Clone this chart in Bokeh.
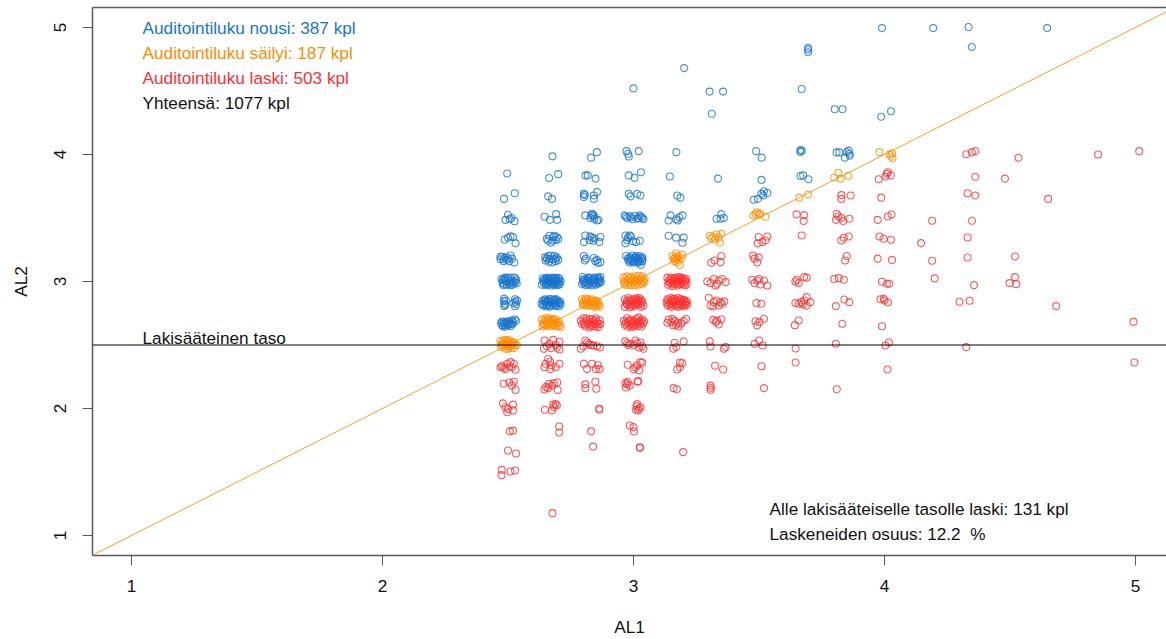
from bokeh.plotting import figure
from bokeh.models import Span, Slope, FixedTicker, LinearAxis, Range1d, Label
from bokeh.embed import file_html
from bokeh.resources import INLINE

x_ticks = [1, 2, 3, 4, 5]
y_ticks = [1, 2, 3, 4, 5]
x_title = "AL1"
y_title = "AL2"
legal_level = 2.5
legend_lines = ["Auditointiluku nousi: 387 kpl", "Auditointiluku säilyi: 187 kpl",
                "Auditointiluku laski: 503 kpl", "Yhteensä: 1077 kpl"]
legal_text = "Lakisääteinen taso"
note_lines = ["Alle lakisääteiselle tasolle laski: 131 kpl", "Laskeneiden osuus: 12.2 \u00a0%"]

blue_pts = [
 (3.99,4.995),(4.194,4.995),(4.335,5.003),(4.648,4.995),(4.348,4.846),(3.696,4.84),(3.696,4.825),(3.696,4.805),
 (3.202,4.68),(3.0,4.52),(3.303,4.495),(3.357,4.495),(3.312,4.32),(3.67,4.515),(3.802,4.356),(3.833,4.356),(4.026,4.34),(3.987,4.297),
 (2.497,3.85),(2.527,3.695),(2.484,3.65),(2.5,3.525),(2.49,3.485),(2.507,3.49),(2.526,3.475),(2.514,3.5),(2.487,3.33),(2.51,3.355),(2.52,3.35),(2.53,3.3),(2.5,3.345),
 (2.477,3.195),(2.51,3.205),(2.483,3.16),(2.525,3.15),(2.497,3.17),(2.47,3.195),(2.483,3.175),(2.516,3.18),(2.47,3.175),(2.49,3.19),(2.505,3.16),(2.5,3.185),
 (2.474,3.02),(2.478,2.99),(2.482,2.97),(2.49,3.03),(2.488,3.005),(2.495,2.975),(2.5,3.015),(2.505,2.99),(2.51,3.03),(2.518,2.975),(2.52,3.0),(2.526,3.03),(2.533,3.015),(2.535,2.985),(2.48,3.01),(2.51,2.97),
 (2.484,2.98),(2.494,2.995),(2.484,3.022),(2.498,3.028),(2.512,3.008),(2.526,2.99),(2.514,2.985),(2.53,3.002),
 (2.485,2.865),(2.483,2.845),(2.487,2.825),(2.485,2.805),(2.492,2.85),(2.49,2.815),(2.528,2.86),(2.53,2.84),(2.533,2.82),(2.528,2.805),(2.522,2.83),(2.536,2.85),
 (2.472,2.67),(2.478,2.655),(2.482,2.68),(2.488,2.66),(2.49,2.645),(2.495,2.672),(2.5,2.655),(2.505,2.685),(2.51,2.668),(2.512,2.65),(2.52,2.68),(2.527,2.7),(2.533,2.69),(2.515,2.695),
 (2.476,2.685),(2.485,2.67),(2.48,2.645),(2.497,2.686),(2.503,2.668),(2.517,2.665),
 (2.677,3.985),(2.664,3.815),(2.7,3.845),(2.66,3.67),(2.675,3.65),(2.646,3.51),(2.667,3.485),(2.692,3.53),(2.696,3.485),
 (2.655,3.335),(2.672,3.305),(2.68,3.35),(2.695,3.35),(2.665,3.36),(2.69,3.325),(2.678,3.32),(2.66,3.32),(2.685,3.36),(2.7,3.335),
 (2.648,3.19),(2.66,3.2),(2.67,3.205),(2.685,3.2),(2.695,3.19),(2.65,3.165),(2.662,3.155),(2.675,3.15),(2.69,3.16),(2.7,3.17),(2.665,3.178),(2.68,3.175),(2.655,3.18),(2.69,3.18),
 (2.635,2.975),(2.64,3.0),(2.638,3.025),(2.65,2.97),(2.652,2.99),(2.648,3.012),(2.655,3.03),(2.662,2.975),(2.665,3.0),(2.66,3.02),(2.672,2.968),(2.675,2.988),(2.67,3.01),(2.677,3.03),(2.685,2.975),(2.688,2.998),(2.684,3.018),(2.695,2.97),(2.698,2.99),(2.694,3.012),(2.7,3.028),(2.706,2.98),(2.71,3.0),(2.705,3.02),
 (2.644,2.985),(2.644,3.015),(2.656,3.005),(2.656,2.98),(2.668,3.022),(2.668,2.992),(2.68,3.0),(2.68,2.978),(2.68,3.024),(2.692,3.005),(2.692,2.985),(2.692,3.026),(2.702,3.0),(2.702,2.975),(2.65,3.022),(2.662,3.01),
 (2.634,2.825),(2.638,2.85),(2.64,2.81),(2.648,2.86),(2.65,2.835),(2.652,2.805),(2.66,2.85),(2.662,2.825),(2.665,2.8),(2.672,2.862),(2.675,2.84),(2.677,2.815),(2.685,2.855),(2.688,2.83),(2.69,2.805),(2.698,2.85),(2.7,2.825),(2.702,2.805),(2.708,2.84),(2.71,2.82),
 (2.644,2.82),(2.644,2.845),(2.656,2.815),(2.656,2.84),(2.668,2.838),(2.668,2.812),(2.68,2.85),(2.68,2.826),(2.693,2.84),(2.693,2.815),(2.704,2.832),(2.65,2.85),(2.662,2.86),(2.69,2.862),
 (2.854,4.018),(2.831,3.975),(2.809,3.835),(2.818,3.835),(2.849,3.81),(2.802,3.69),(2.802,3.665),(2.855,3.705),(2.842,3.677),(2.842,3.65),(2.806,3.68),
 (2.808,3.52),(2.835,3.533),(2.842,3.512),(2.828,3.5),(2.855,3.48),(2.844,3.493),(2.861,3.485),(2.832,3.52),(2.84,3.525),
 (2.808,3.362),(2.803,3.31),(2.828,3.355),(2.825,3.325),(2.868,3.35),(2.864,3.31),(2.845,3.34),(2.835,3.345),(2.84,3.32),
 (2.802,3.2),(2.806,3.165),(2.842,3.185),(2.855,3.17),(2.868,3.152),(2.858,3.145),(2.81,3.18),(2.848,3.16),
 (2.795,2.98),(2.8,3.015),(2.798,3.035),(2.81,2.97),(2.812,2.995),(2.808,3.02),(2.82,3.03),(2.822,2.975),(2.826,3.0),(2.83,3.02),(2.835,2.968),(2.84,2.99),(2.838,3.01),(2.846,3.03),(2.85,2.975),(2.853,3.0),(2.858,3.02),(2.862,2.985),(2.866,3.005),(2.868,3.035),
 (2.804,2.985),(2.804,3.005),(2.816,3.012),(2.816,2.982),(2.826,3.028),(2.83,2.985),(2.842,3.022),(2.846,2.982),(2.846,3.008),(2.858,2.992),(2.86,3.03),(2.864,3.018),(2.87,2.995),(2.8,3.0),
 (2.972,4.026),(2.979,4.005),(2.981,3.984),(3.021,4.026),(2.981,3.835),(3.004,3.816),(3.03,3.86),(2.981,3.69),(2.988,3.67),(3.015,3.69),(3.028,3.677),
 (2.965,3.52),(2.975,3.5),(2.97,3.51),(2.985,3.515),(2.995,3.49),(3.005,3.515),(3.015,3.495),(3.025,3.52),(3.035,3.5),(3.04,3.49),(3.02,3.5),(2.99,3.505),(3.03,3.51),
 (2.968,3.362),(2.985,3.362),(2.968,3.3),(2.998,3.316),(3.025,3.32),(2.978,3.345),(2.99,3.355),(3.01,3.31),(2.975,3.325),
 (2.97,3.2),(2.985,3.19),(2.995,3.205),(3.01,3.2),(3.025,3.2),(3.035,3.19),(2.98,3.165),(2.995,3.17),(3.01,3.175),(3.025,3.165),(3.035,3.16),(2.985,3.15),(3.0,3.15),(3.015,3.15),(3.03,3.13),(3.005,3.185),(3.02,3.18),
 (2.99,3.182),(2.978,3.18),(3.03,3.182),(3.018,3.162),(3.004,3.16),(2.992,3.16),(3.036,3.175),(3.012,3.19),(3.024,3.15),
 (3.171,4.018),(3.145,3.827),(3.174,3.677),(3.187,3.66),(3.148,3.52),(3.14,3.48),(3.195,3.52),(3.17,3.49),(3.183,3.505),(3.176,3.48),
 (3.14,3.36),(3.17,3.345),(3.2,3.345),(3.195,3.305),
 (3.337,3.81),(3.331,3.494),(3.347,3.494),(3.36,3.5),(3.35,3.53),
 (3.489,4.026),(3.511,3.975),(3.51,3.8),(3.479,3.643),(3.495,3.65),(3.51,3.69),(3.52,3.71),(3.533,3.697),(3.517,3.677),
 (3.665,4.035),(3.67,4.03),(3.665,4.02),(3.665,3.83),(3.676,3.835),(3.697,3.805),
 (3.809,4.016),(3.82,4.016),(3.858,4.03),(3.86,4.005),(3.862,3.99),(3.85,4.018),(3.842,3.975),
]

red_pts = [
 (3.977,3.805),(4.004,3.827),(4.01,3.848),(4.026,3.835),(4.013,3.86),(3.987,3.66),(3.973,3.485),(4.013,3.512),(4.028,3.527),(3.98,3.354),(3.996,3.336),(4.026,3.328),(3.973,3.18),(4.03,3.17),(3.99,2.998),(4.01,2.982),(4.02,2.982),(3.984,2.86),(3.997,2.864),(4.0,2.85),(4.014,2.835),(3.99,2.648),(4.004,2.496),(4.018,2.52),(4.012,2.307),
 (3.828,3.68),(3.865,3.677),(3.828,3.65),(3.81,3.533),(3.807,3.485),(3.828,3.5),(3.836,3.476),(3.86,3.494),(3.816,3.512),(3.828,3.323),(3.838,3.344),(3.858,3.354),(3.85,3.2),(3.843,3.165),(3.8,3.02),(3.818,3.026),(3.838,3.013),(3.806,2.806),(3.84,2.858),(3.86,2.837),(3.832,2.667),(3.806,2.51),(3.81,2.152),
 (3.65,3.528),(3.68,3.522),(3.678,3.476),(3.67,3.362),(3.645,3.0),(3.658,2.987),(3.68,3.035),(3.69,3.03),(3.65,3.013),(3.645,2.83),(3.658,2.825),(3.675,2.82),(3.69,2.877),(3.705,2.837),(3.69,2.81),(3.68,2.85),(3.668,2.837),(3.658,2.693),(3.643,2.656),(3.646,2.472),(3.646,2.362),
 (3.533,3.354),(3.499,3.35),(3.495,3.3),(3.526,3.323),(3.513,3.31),(3.476,3.205),(3.499,3.19),(3.482,3.18),(3.493,3.15),(3.473,3.013),(3.493,3.008),(3.52,3.008),(3.533,2.968),(3.506,2.976),(3.482,2.987),(3.5,3.02),(3.49,2.83),(3.509,2.825),(3.52,2.706),(3.502,2.68),(3.493,2.654),(3.486,2.687),(3.483,2.51),(3.5,2.535),(3.515,2.496),(3.51,2.333),(3.52,2.16),
 (3.31,3.147),(3.35,3.2),(3.347,3.152),(3.323,3.165),(3.294,3.0),(3.32,3.02),(3.307,2.987),(3.333,2.982),(3.353,3.02),(3.367,2.995),(3.34,3.008),(3.327,2.968),(3.3,2.872),(3.362,2.843),(3.32,2.837),(3.34,2.811),(3.353,2.824),(3.307,2.811),(3.331,2.85),(3.347,2.837),(3.318,2.803),(3.318,2.698),(3.35,2.703),(3.34,2.661),(3.333,2.693),(3.328,2.68),(3.304,2.528),(3.307,2.488),(3.36,2.47),(3.367,2.484),(3.325,2.336),(3.357,2.307),(3.307,2.18),(3.308,2.163),(3.307,2.147),
 (3.135,3.03),(3.14,3.0),(3.138,2.975),(3.15,3.03),(3.152,3.01),(3.15,2.985),(3.155,2.965),(3.165,3.028),(3.168,3.0),(3.162,2.978),(3.178,3.035),(3.18,3.012),(3.175,2.99),(3.177,2.968),(3.19,3.03),(3.192,3.005),(3.188,2.98),(3.2,3.025),(3.205,3.0),(3.2,2.975),(3.21,3.02),(3.212,2.985),
 (3.144,3.018),(3.144,2.99),(3.158,3.018),(3.158,2.995),(3.172,3.018),(3.172,2.978),(3.184,3.0),(3.184,3.024),(3.196,2.99),(3.196,3.015),(3.206,3.01),(3.208,2.97),
 (3.135,2.86),(3.132,2.835),(3.136,2.81),(3.148,2.87),(3.15,2.845),(3.148,2.82),(3.15,2.8),(3.162,2.865),(3.165,2.84),(3.16,2.815),(3.178,2.87),(3.18,2.845),(3.175,2.82),(3.177,2.8),(3.19,2.86),(3.192,2.835),(3.188,2.81),(3.202,2.855),(3.205,2.83),(3.2,2.805),(3.212,2.845),(3.213,2.82),
 (3.14,2.85),(3.142,2.825),(3.156,2.858),(3.156,2.832),(3.168,2.852),(3.17,2.808),(3.184,2.858),(3.184,2.824),(3.196,2.845),(3.196,2.82),(3.208,2.838),(3.208,2.812),
 (3.14,2.7),(3.135,2.675),(3.15,2.68),(3.158,2.655),(3.165,2.69),(3.17,2.66),(3.18,2.645),(3.19,2.67),(3.2,2.69),(3.21,2.705),(3.178,2.675),(3.155,2.705),
 (3.164,2.517),(3.2,2.528),(3.158,2.47),(3.171,2.484),(3.185,2.362),(3.194,2.357),(3.185,2.325),(3.174,2.307),(3.16,2.16),(3.173,2.152),(3.198,1.656),
 (2.965,2.86),(2.97,2.83),(2.965,2.8),(2.98,2.87),(2.982,2.845),(2.98,2.815),(2.985,2.795),(2.995,2.86),(2.998,2.83),(2.995,2.805),(3.01,2.865),(3.012,2.84),(3.008,2.81),(3.022,2.87),(3.025,2.845),(3.02,2.82),(3.035,2.84),(3.04,2.81),(3.03,2.8),
 (2.974,2.85),(2.974,2.82),(2.99,2.848),(2.99,2.82),(3.004,2.85),(3.004,2.82),(3.018,2.855),(3.016,2.83),(3.03,2.825),(3.03,2.858),
 (2.962,2.69),(2.966,2.66),(2.975,2.71),(2.978,2.68),(2.975,2.645),(2.99,2.7),(2.992,2.67),(2.99,2.64),(3.005,2.69),(3.008,2.66),(3.0,2.645),(3.02,2.715),(3.022,2.68),(3.018,2.65),(3.035,2.7),(3.038,2.67),(3.032,2.645),(3.042,2.685),
 (2.97,2.675),(2.984,2.66),(2.984,2.692),(2.998,2.68),(2.998,2.655),(3.012,2.705),(3.014,2.675),(3.028,2.665),(3.028,2.69),
 (2.967,2.53),(2.975,2.515),(2.988,2.51),(3.001,2.5),(3.015,2.515),(3.028,2.52),(3.04,2.47),(3.034,2.49),(2.98,2.5),(3.008,2.535),(3.022,2.48),
 (2.977,2.344),(3.028,2.365),(3.008,2.325),(3.022,2.3),(3.035,2.36),(3.001,2.31),(3.015,2.34),
 (2.968,2.2),(2.985,2.18),(2.977,2.21),(2.97,2.165),(3.018,2.215),(3.016,2.21),(2.975,2.19),
 (3.015,2.035),(3.022,2.0),(3.012,2.02),(3.028,2.01),(3.018,1.985),(3.01,1.99),
 (2.985,1.866),(3.0,1.853),(3.002,1.819),(3.025,1.695),(3.026,1.69),
 (2.79,2.69),(2.8,2.71),(2.795,2.665),(2.808,2.645),(2.815,2.695),(2.82,2.665),(2.825,2.64),(2.835,2.7),(2.838,2.67),(2.84,2.645),(2.85,2.71),(2.855,2.68),(2.852,2.65),(2.865,2.695),(2.868,2.665),(2.86,2.64),
 (2.802,2.68),(2.806,2.66),(2.812,2.71),(2.826,2.68),(2.83,2.655),(2.826,2.705),(2.846,2.665),(2.846,2.695),(2.86,2.665),
 (2.808,2.535),(2.855,2.49),(2.8,2.49),(2.79,2.47),(2.832,2.5),(2.866,2.48),(2.815,2.52),(2.822,2.505),(2.84,2.495),
 (2.802,2.352),(2.835,2.352),(2.815,2.31),(2.85,2.31),(2.865,2.31),(2.858,2.34),
 (2.808,2.19),(2.808,2.16),(2.848,2.21),(2.852,2.155),
 (2.863,2.0),(2.864,1.99),(2.704,1.858),(2.704,1.811),(2.831,1.82),(2.839,1.7),
 (2.646,2.535),(2.68,2.54),(2.705,2.525),(2.643,2.47),(2.672,2.475),(2.705,2.465),(2.69,2.5),(2.665,2.51),(2.655,2.49),(2.695,2.48),
 (2.66,2.39),(2.705,2.352),(2.645,2.325),(2.669,2.31),(2.69,2.325),(2.65,2.352),(2.672,2.34),(2.668,2.37),
 (2.696,2.207),(2.663,2.195),(2.645,2.15),(2.698,2.145),(2.675,2.18),(2.66,2.16),(2.683,2.2),(2.652,2.17),
 (2.69,2.035),(2.683,2.01),(2.675,1.985),(2.647,1.99),(2.695,2.025),(2.68,2.03),(2.677,1.176),
 (2.47,2.325),(2.497,2.352),(2.523,2.352),(2.49,2.31),(2.53,2.305),(2.515,2.325),(2.483,2.32),(2.51,2.365),(2.476,2.335),(2.505,2.33),
 (2.483,2.195),(2.523,2.21),(2.53,2.145),(2.515,2.18),(2.505,2.205),
 (2.48,2.04),(2.52,2.03),(2.497,1.97),(2.49,2.01),(2.52,1.985),(2.5,1.995),
 (2.507,1.82),(2.52,1.826),(2.5,1.669),(2.532,1.646),(2.475,1.517),(2.474,1.475),(2.51,1.504),(2.528,1.512),
 (4.326,4.002),(4.348,4.016),(4.362,4.026),(4.534,3.974),(4.851,4.0),(5.015,4.026),(4.362,3.824),(4.48,3.81),(4.331,3.695),(4.362,3.677),(4.652,3.65),(4.19,3.478),(4.349,3.478),(4.146,3.302),(4.331,3.346),(4.19,3.163),(4.331,3.189),(4.52,3.197),(4.2,3.024),(4.357,2.971),(4.498,2.987),(4.52,3.034),(4.525,2.979),(4.299,2.84),(4.339,2.848),(4.684,2.806),(4.992,2.682),(4.326,2.483),(4.996,2.362),
]

orange_pts = [
 (2.47,2.53),(2.475,2.505),(2.472,2.485),(2.485,2.54),(2.488,2.515),(2.485,2.49),(2.49,2.47),(2.5,2.54),(2.502,2.52),(2.498,2.495),(2.5,2.47),(2.51,2.53),(2.513,2.505),(2.51,2.48),(2.525,2.52),(2.528,2.495),(2.522,2.475),(2.535,2.5),
 (2.48,2.5),(2.48,2.525),(2.494,2.505),(2.494,2.53),(2.506,2.51),(2.506,2.49),(2.518,2.5),(2.518,2.52),
 (2.635,2.7),(2.64,2.67),(2.638,2.645),(2.65,2.71),(2.652,2.685),(2.65,2.655),(2.662,2.71),(2.665,2.68),(2.66,2.65),(2.675,2.705),(2.678,2.675),(2.672,2.648),(2.69,2.7),(2.692,2.67),(2.688,2.645),(2.703,2.685),(2.706,2.655),(2.71,2.64),
 (2.645,2.695),(2.644,2.66),(2.656,2.67),(2.658,2.695),(2.67,2.665),(2.67,2.69),(2.684,2.66),(2.684,2.69),(2.698,2.675),(2.698,2.65),(2.68,2.705),
 (2.795,2.86),(2.8,2.835),(2.798,2.815),(2.81,2.865),(2.812,2.84),(2.808,2.81),(2.82,2.86),(2.825,2.835),(2.822,2.81),(2.835,2.86),(2.84,2.835),(2.838,2.805),(2.85,2.85),(2.852,2.825),(2.848,2.8),(2.862,2.82),(2.865,2.8),(2.858,2.84),
 (2.804,2.85),(2.804,2.825),(2.816,2.85),(2.816,2.825),(2.83,2.848),(2.83,2.82),(2.845,2.848),(2.845,2.818),(2.856,2.81),
 (2.96,3.03),(2.962,3.0),(2.965,2.975),(2.975,3.04),(2.978,3.01),(2.975,2.975),(2.99,3.035),(2.992,3.0),(2.99,2.97),(3.005,3.04),(3.008,3.005),(3.005,2.97),(3.02,3.045),(3.022,3.01),(3.02,2.975),(3.035,3.04),(3.038,3.005),(3.035,2.98),(3.044,3.02),
 (2.968,3.015),(2.968,2.99),(2.984,3.022),(2.984,2.988),(3.0,3.02),(3.0,2.985),(3.014,3.025),(3.014,2.99),(3.03,3.025),(3.03,2.992),(3.044,2.995),
 (3.155,3.2),(3.17,3.22),(3.178,3.2),(3.195,3.21),(3.165,3.185),(3.18,3.17),(3.19,3.185),(3.165,3.16),(3.175,3.15),(3.185,3.13),(3.17,3.175),(3.175,3.19),(3.16,3.175),
 (3.304,3.36),(3.318,3.354),(3.331,3.37),(3.35,3.375),(3.325,3.33),(3.345,3.305),(3.31,3.34),(3.338,3.345),
 (3.478,3.52),(3.492,3.545),(3.505,3.535),(3.525,3.51),(3.5,3.525),(3.487,3.53),
 (3.661,3.66),(3.696,3.685),(3.816,3.855),(3.8,3.818),(3.825,3.81),(3.856,3.832),
 (3.98,4.018),(4.02,4.0),(4.03,4.01),(4.032,3.97),(4.027,3.984),
]

blue_x, blue_y = [a for a, _ in blue_pts], [b for _, b in blue_pts]
red_x, red_y = [a for a, _ in red_pts], [b for _, b in red_pts]
orange_x, orange_y = [a for a, _ in orange_pts], [b for _, b in orange_pts]

BLUE, ORANGE, RED = "#1874CD", "#FF8C00", "#FF3030"
GREY = "#5a5a5a"
FONT = "Liberation Sans"
FS = "17.2px"

p = figure(width=1166, height=639, output_backend="svg", toolbar_location=None,
           x_range=Range1d(0.8446, 5.1235), y_range=Range1d(0.8425, 5.157),
           min_border_left=92, min_border_right=0, min_border_top=7, min_border_bottom=84,
           x_axis_label=x_title, y_axis_label=y_title, margin=(0, 0, 0, 0))
p.grid.visible = False
p.outline_line_color = None
p.background_fill_color = "white"

for ax, ticks in ((p.xaxis[0], x_ticks), (p.yaxis[0], y_ticks)):
    ax.ticker = FixedTicker(ticks=ticks)
    ax.major_tick_out = 10
    ax.major_tick_in = 0
    ax.minor_tick_line_color = None
    ax.axis_line_color = GREY
    ax.axis_line_width = 1.5
    ax.major_tick_line_color = GREY
    ax.major_label_text_font = FONT
    ax.major_label_text_font_size = FS
    ax.major_label_text_color = "#111111"
    ax.axis_label_text_font = FONT
    ax.axis_label_text_font_size = FS
    ax.axis_label_text_font_style = "normal"
    ax.axis_label_text_color = "#111111"
p.xaxis[0].major_label_standoff = 14
p.xaxis[0].axis_label_standoff = 22
p.yaxis[0].major_label_standoff = 16
p.yaxis[0].major_label_orientation = "vertical"
p.yaxis[0].axis_label_standoff = 21

top = LinearAxis(ticker=FixedTicker(ticks=[]), axis_line_color=GREY, axis_line_width=1.5,
                 major_tick_line_color=None, minor_tick_line_color=None,
                 major_label_text_font_size="0px")
p.add_layout(top, "above")

kw = dict(marker="circle", size=7, fill_color=None, line_width=1.1, line_alpha=0.8)
p.scatter(blue_x, blue_y, line_color=BLUE, **kw)
p.scatter(red_x, red_y, line_color=RED, **kw)
p.scatter(orange_x, orange_y, line_color=ORANGE, **kw)

p.add_layout(Slope(gradient=1, y_intercept=0, line_color=ORANGE, line_width=1, line_alpha=0.85))
p.add_layout(Span(location=legal_level, dimension="width", line_color="#000000", line_width=1.2))

def txt(x, y, s, c):
    p.add_layout(Label(x=x, y=y, text=s, text_color=c, text_font=FONT, text_font_size=FS,
                       text_baseline="middle", text_align="left"))

for s, c, y in zip(legend_lines, [BLUE, ORANGE, RED, "#111111"], [4.992, 4.795, 4.604, 4.408]):
    txt(1.044, y, s, c)
txt(1.044, 2.555, legal_text, "#111111")
txt(3.542, 1.205, note_lines[0], "#111111")
txt(3.542, 1.008, note_lines[1], "#111111")

open("out.html", "w").write(file_html(p, INLINE))
